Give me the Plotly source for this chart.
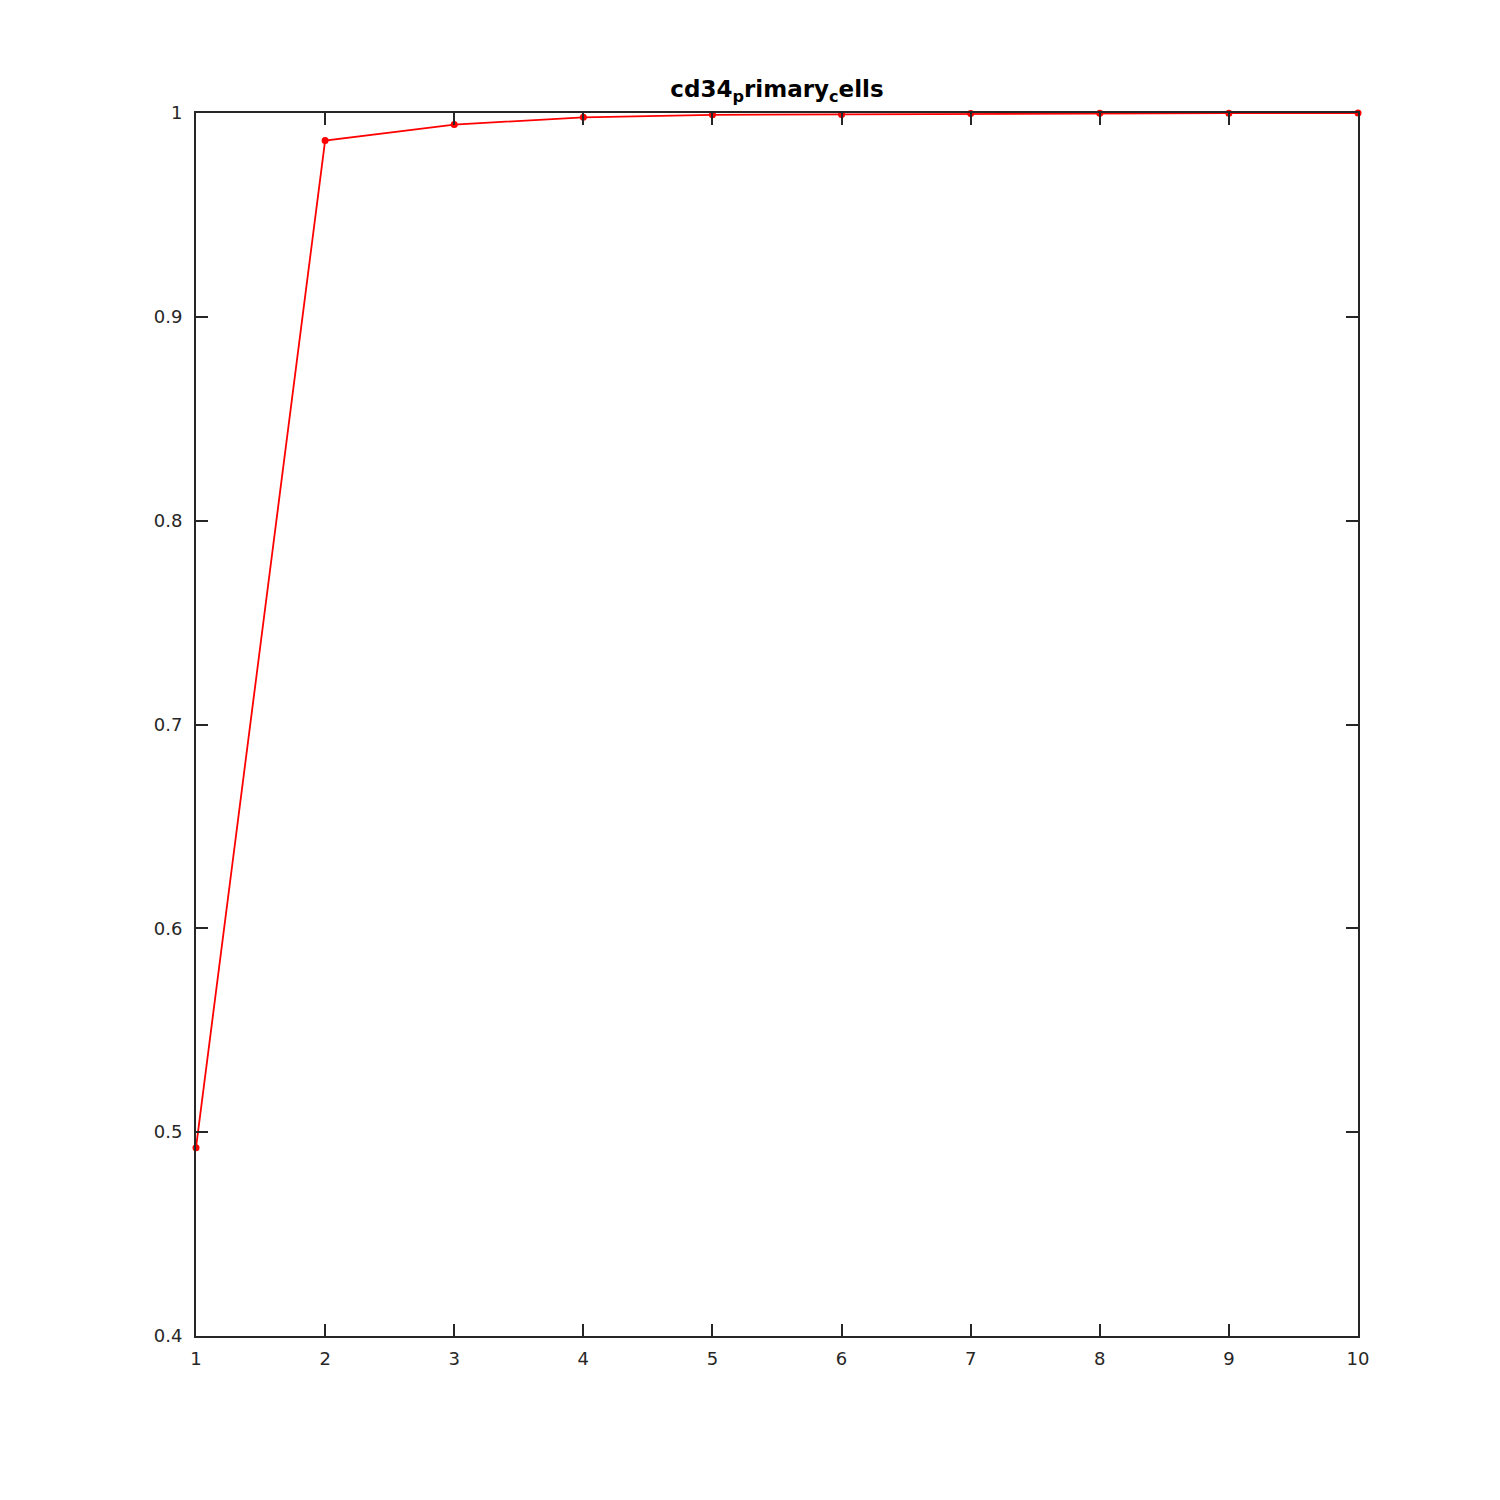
import plotly.graph_objects as go

x_vals = [1, 2, 3, 4, 5, 6, 7, 8, 9, 10]
y_vals = [0.4924, 0.9865, 0.9943, 0.9979, 0.9991, 0.9993, 0.9998, 0.9999, 0.9999, 1.0]
x_ticks = [1, 2, 3, 4, 5, 6, 7, 8, 9, 10]
y_ticks = [0.4, 0.5, 0.6, 0.7, 0.8, 0.9, 1.0]
y_tick_labels = ["0.4", "0.5", "0.6", "0.7", "0.8", "0.9", "1"]
title_text = "<b>cd34<sub>p</sub>rimary<sub>c</sub>ells</b>"

axis_color = "#262626"

fig = go.Figure()
fig.add_trace(go.Scatter(
    x=x_vals, y=y_vals, mode="lines+markers",
    line=dict(color="#ff0000", width=1.8),
    marker=dict(color="#ff0000", size=7),
    showlegend=False, cliponaxis=False,
))

axis_common = dict(
    showgrid=False, zeroline=False,
    showline=True, linecolor=axis_color, linewidth=2,
    mirror="ticks", ticks="inside", ticklen=12, tickwidth=2, tickcolor=axis_color,
    tickfont=dict(family="DejaVu Sans", size=18, color=axis_color),
)

fig.update_layout(
    width=1500, height=1500,
    margin=dict(l=188, r=150, t=105, b=172, autoexpand=False),
    paper_bgcolor="white", plot_bgcolor="white",
    title=dict(text=title_text, xanchor="center",
               xref="paper", x=0.5, yref="container", y=1 - 81 / 1500, yanchor="middle",
               font=dict(family="DejaVu Sans", size=23, color="black")),
    xaxis=dict(range=[1, 10], tickvals=x_ticks, ticktext=[str(v) for v in x_ticks],
               ticklabelstandoff=5, **axis_common),
    yaxis=dict(range=[0.4, 1.0], tickvals=y_ticks, ticktext=y_tick_labels,
               ticklabelstandoff=8, **axis_common),
)

fig.write_html("out.html")
